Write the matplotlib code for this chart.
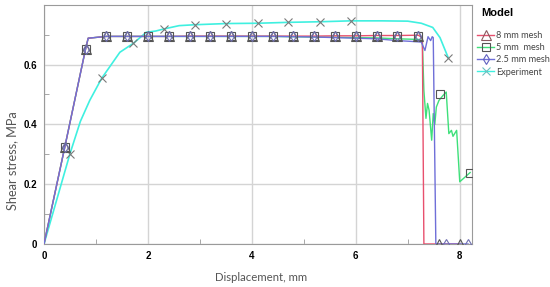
import matplotlib
matplotlib.use("Agg")
import matplotlib.pyplot as plt
from matplotlib.lines import Line2D

# ---------------- data ----------------
plateau_x = [1.2, 1.6, 2.0, 2.4, 2.8, 3.2, 3.6, 4.0, 4.4, 4.8, 5.2, 5.6, 6.0, 6.4, 6.8, 7.2]

mesh8_x = [0, 0.4, 0.8, 0.85] + plateau_x + [7.28, 7.31, 7.6, 8.0]
mesh8_y = [0, 0.324, 0.652, 0.688,
           0.694, 0.694, 0.694, 0.694, 0.695, 0.695, 0.695, 0.695, 0.695, 0.695,
           0.695, 0.696, 0.696, 0.697, 0.697, 0.698, 0.69, 0.0, 0.0, 0.0]
mesh8_mx = [0.4, 0.8] + plateau_x + [7.6, 8.0]
mesh8_my = [0.324, 0.652] + [0.694] * 16 + [0.0, 0.0]

mesh5_x = [0, 0.4, 0.8, 0.85] + plateau_x + [7.28, 7.31, 7.35, 7.38, 7.41, 7.46, 7.49,
                                              7.52, 7.55, 7.6, 7.68, 7.74, 7.79, 7.84,
                                              7.87, 7.94, 8.0, 8.2]
mesh5_y = [0, 0.324, 0.652, 0.688,
           0.694, 0.694, 0.694, 0.694, 0.694, 0.694, 0.694, 0.694, 0.694, 0.693,
           0.692, 0.691, 0.690, 0.689, 0.686, 0.684,
           0.68, 0.513, 0.42, 0.47, 0.447, 0.347, 0.436, 0.40, 0.458, 0.48, 0.497,
           0.508, 0.369, 0.38, 0.36, 0.38, 0.208, 0.239]
mesh5_mx = [0.4, 0.8] + plateau_x + [7.62, 8.2]
mesh5_my = [0.324, 0.652] + [0.694] * 16 + [0.50, 0.239]

mesh25_x = [0, 0.4, 0.8, 0.85] + plateau_x + [7.26, 7.33, 7.39, 7.44, 7.47, 7.49, 7.54, 7.74, 8.16]
mesh25_y = [0, 0.324, 0.652, 0.688,
            0.694, 0.694, 0.694, 0.694, 0.694, 0.694, 0.694, 0.694, 0.694, 0.693,
            0.692, 0.690, 0.688, 0.686, 0.680, 0.676,
            0.675, 0.647, 0.693, 0.680, 0.693, 0.69, 0.0, 0.0, 0.0]
mesh25_mx = [0.4, 0.8] + plateau_x + [7.74, 8.16]
mesh25_my = [0.324, 0.652] + [0.694] * 16 + [0.0, 0.0]

exp_x = [0, 0.5, 0.7, 0.88, 1.11, 1.46, 1.72, 1.97, 2.15, 2.31, 2.6, 2.9, 3.51,
         4.11, 4.70, 5.31, 5.9, 6.5, 7.0, 7.26, 7.48, 7.62, 7.78]
exp_y = [0, 0.302, 0.41, 0.48, 0.554, 0.641, 0.671, 0.708, 0.712, 0.719, 0.73,
         0.733, 0.737, 0.738, 0.741, 0.743, 0.746, 0.746, 0.745, 0.738, 0.724,
         0.69, 0.622]
exp_mx = [0.5, 1.11, 1.72, 2.31, 2.90, 3.51, 4.11, 4.70, 5.31, 5.9, 7.78]
exp_my = [0.302, 0.554, 0.671, 0.719, 0.733, 0.737, 0.738, 0.741, 0.743, 0.746, 0.622]

labels = ["8 mm mesh", "5 mm  mesh", "2.5 mm mesh", "Experiment"]

# ---------------- styles ----------------
c8, c5, c25, cexp = "#e8506e", "#3ee07a", "#6f6fd8", "#3ff0e0"

fig = plt.figure(figsize=(5.5, 2.87), dpi=100)
ax = fig.add_axes([44 / 550, 1 - 244 / 287, (471.7 - 44) / 550, (244 - 4.7) / 287])

ax.plot(exp_x, exp_y, color=cexp, lw=1.2, zorder=2)
ax.plot(mesh5_x, mesh5_y, color=c5, lw=1.0, zorder=3)
ax.plot(mesh8_x, mesh8_y, color=c8, lw=1.0, zorder=4)
ax.plot(mesh25_x, mesh25_y, color=c25, lw=1.0, zorder=5)

ax.plot(exp_mx, exp_my, ls="none", marker="x", ms=6, mew=0.8, color="#7a7a7a", zorder=6)
ax.plot(mesh5_mx, mesh5_my, ls="none", marker="s", ms=6, mew=0.8, mfc="none", mec="#555555", zorder=7)
ax.plot(mesh8_mx, mesh8_my, ls="none", marker="^", ms=7, mew=0.8, mfc="none", mec="#555555", zorder=8)
ax.plot(mesh25_mx, mesh25_my, ls="none", marker="d", ms=5, mew=0.8, mfc="none", mec="#7070b0", zorder=9)

ax.set_xlim(0, 8.23)
ax.set_ylim(0, 0.8)
ax.set_xticks([0, 2, 4, 6, 8])
ax.set_xticklabels(["0", "2", "4", "6", "8"])
ax.set_xticks([1, 3, 5, 7], minor=True)
ax.set_yticks([0, 0.2, 0.4, 0.6])
ax.set_yticklabels(["0", "0.2", "0.4", "0.6"])
ax.set_yticks([0.1, 0.3, 0.5, 0.7], minor=True)
ax.grid(True, which="major", color="#d4d4d4", lw=1.0)
ax.set_axisbelow(True)
ax.tick_params(which="major", length=0, pad=5, labelsize=7)
ax.tick_params(which="minor", direction="in", length=3.5, color="#999999")
for lab in ax.get_xticklabels() + ax.get_yticklabels():
    lab.set_fontweight("bold")
    lab.set_family("Liberation Sans")
for sp in ax.spines.values():
    sp.set_color("#9a9a9a")

fig.text(261 / 550, 1 - 277.5 / 287, "Displacement, mm", family="Lato", fontsize=8.2,
         color="#555555", ha="center", va="center")
fig.text(12 / 550, 1 - 161 / 287, "Shear stress, MPa", family="Lato", fontsize=9.2,
         color="#555555", ha="center", va="center", rotation=90)

handles = [
    Line2D([], [], color=c8, lw=1.0, marker="^", ms=7, mfc="none", mec="#8a5a60", mew=0.8),
    Line2D([], [], color=c5, lw=1.0, marker="s", ms=6, mfc="none", mec="#555555", mew=0.8),
    Line2D([], [], color=c25, lw=1.0, marker="d", ms=5, mfc="none", mec="#6060c0", mew=0.8),
    Line2D([], [], color=cexp, lw=1.0, marker="x", ms=6, mec="#6ac0c0", mew=0.8),
]
fig.text(481 / 550, 1 - 13 / 287, "Model", family="Liberation Sans", fontweight="bold",
         fontsize=8, va="center", ha="left")
fig.legend(handles, labels, loc="upper left", bbox_to_anchor=(477 / 550, 1 - 31 / 287),
           frameon=False, prop={"family": "Lato", "size": 6.6}, handlelength=1.9,
           handletextpad=0.15, labelspacing=0.35, borderpad=0, borderaxespad=0,
           labelcolor="#444444")

fig.savefig("out.png", dpi=100)
